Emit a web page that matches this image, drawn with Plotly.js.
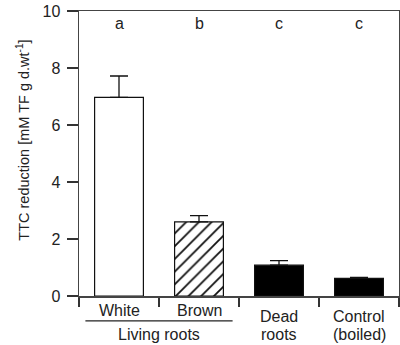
<!DOCTYPE html>
<html>
<head>
<meta charset="utf-8">
<script src="https://cdn.plot.ly/plotly-3.0.1.min.js"></script>
<style>html,body{margin:0;padding:0;background:#fff;}#chart{width:400px;height:345px;}</style>
</head>
<body>
<div id="chart"></div>
<script>
const categories = ["White", "Brown", "Dead roots", "Control (boiled)"];
const values = [6.97, 2.6, 1.08, 0.62];
const errors = [0.75, 0.22, 0.16, 0.03];
const letters = ["a", "b", "c", "c"];
const labelLine1 = ["White", "Brown", "Dead", "Control"];
const labelLine2 = ["", "", "roots", "(boiled)"];
const groupLabel = "Living roots";
const yTitle = "TTC reduction [mM TF g d.wt<sup>-1</sup>]";
const yTicks = [0, 2, 4, 6, 8, 10];

const fam = "Liberation Sans, Arial, sans-serif";
const font = {family: fam, size: 16, color: "#222"};
const fills = ["#ffffff", "#ffffff", "#000000", "#000000"];
const hatches = ["", "/", "", ""];

const traces = categories.map((c, i) => ({
  type: "bar",
  x: [c],
  y: [values[i]],
  width: 0.61,
  marker: {
    color: fills[i],
    line: {color: "#111", width: 1.2},
    pattern: hatches[i] ? {shape: hatches[i], fgcolor: "#111", bgcolor: "#ffffff", size: 9, solidity: 0.2, fillmode: "replace"} : undefined
  },
  error_y: {type: "data", symmetric: false, array: [errors[i]], arrayminus: [0], color: "#111", thickness: 1.3, width: 9},
  hoverinfo: "none"
}));

const annotations = [];
letters.forEach((l, i) => annotations.push({x: categories[i], y: 9.55, xref: "x", yref: "y", text: l, showarrow: false, font: font}));
// category labels below the axis (one annotation per line)
const line1Y = [-0.05, -0.05, -0.072, -0.072];
const line2Y = -0.135;
labelLine1.forEach((t, i) => annotations.push({x: categories[i], y: line1Y[i], xref: "x", yref: "paper", yanchor: "middle", text: t, showarrow: false, font: font}));
labelLine2.forEach((t, i) => { if (t) annotations.push({x: categories[i], y: line2Y, xref: "x", yref: "paper", yanchor: "middle", text: t, showarrow: false, font: font}); });
annotations.push({x: 0.5, y: line2Y, xref: "x", yref: "paper", yanchor: "middle", text: groupLabel, showarrow: false, font: font});
// y axis title
annotations.push({x: -0.175, y: 0.545, xref: "paper", yref: "paper", xanchor: "center", yanchor: "middle", textangle: -90, text: yTitle, showarrow: false, font: {family: fam, size: 14.5, color: "#222"}});

const layout = {
  width: 400, height: 345,
  margin: {l: 79, r: 1, t: 11, b: 49},
  paper_bgcolor: "#fff", plot_bgcolor: "#fff",
  showlegend: false,
  barmode: "overlay",
  font: font,
  xaxis: {
    type: "category", categoryarray: categories, categoryorder: "array", range: [-0.5, 3.5], tickson: "boundaries",
    showticklabels: false, ticks: "outside", ticklen: 9, tickwidth: 1.2, tickcolor: "#333",
    showline: true, linecolor: "#444", linewidth: 1.5, mirror: true, showgrid: false, zeroline: false, fixedrange: true
  },
  yaxis: {
    range: [0, 10], tickvals: yTicks, ticks: "outside", ticklen: 11, tickwidth: 1.2, tickcolor: "#333",
    ticklabelstandoff: 3,
    showline: true, linecolor: "#444", linewidth: 1.5, mirror: true, showgrid: false, zeroline: false,
    tickfont: {family: fam, size: 16, color: "#222"},
    fixedrange: true
  },
  shapes: [
    {type: "line", xref: "x", yref: "paper", x0: -0.42, x1: 1.42, y0: -0.087, y1: -0.087, line: {color: "#222", width: 1.2}}
  ],
  annotations: annotations
};

Plotly.newPlot("chart", traces, layout, {displayModeBar: false, staticPlot: true});
</script>
</body>
</html>
